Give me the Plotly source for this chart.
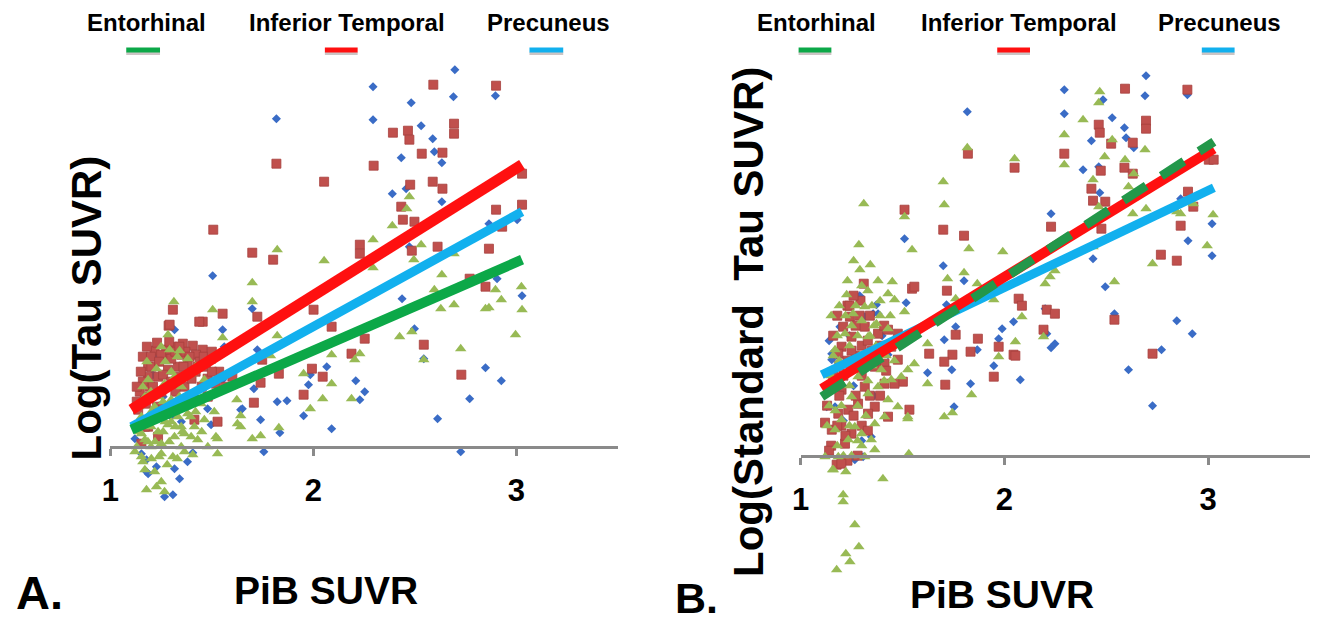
import plotly.graph_objects as go

# ---------------- Data ----------------
# Panel A : PiB SUVR vs Log(Tau SUVR)
a_prec_x = [1.818,1.504,1.553,1.699,1.822,1.870,1.740,1.756,1.835,1.952,2.090,1.976,1.985,2.066,1.642,1.707,1.496,1.479,
            1.406,1.316,1.341,1.186,1.227,1.267,1.308,1.121,1.178,1.316,1.561,1.724,1.650,1.153,1.178,1.186,1.210,1.553,
            1.150,1.260,1.350,1.140,1.230,1.300,1.420,1.380,
            2.294,2.697,2.690,2.897,2.482,2.294,2.531,2.588,2.433,2.596,2.633,2.389,2.457,2.633,2.865,3.004,2.473,2.437,
            2.498,2.544,2.905,3.028,2.848,2.926,2.770,2.209,2.253,2.229,2.612,2.726]
a_prec_y = [0.328,0.171,0.117,0.138,0.045,0.046,0.027,-0.005,0.014,0.031,0.018,0.062,0.072,0.080,0.037,0.058,0.022,0.038,
            -0.006,-0.022,-0.032,-0.027,-0.020,-0.050,-0.048,0.008,-0.013,0.117,0.100,0.097,0.038,-0.007,-0.025,0.083,0.072,0.067,
            0.040,0.050,0.025,0.025,0.090,0.030,0.050,-0.015,
            0.360,0.377,0.350,0.351,0.344,0.327,0.321,0.308,0.289,0.295,0.284,0.253,0.258,0.245,0.223,0.227,0.200,0.148,
            0.118,0.088,0.168,0.151,0.079,0.066,0.048,0.066,0.055,0.047,0.028,-0.005]

a_it_x = [1.818,2.053,1.507,1.699,1.802,1.308,1.287,1.455,1.553,1.724,2.001,1.218,1.186,1.707,1.748,1.830,1.952,2.046,
          1.601,1.740,1.528,1.993,1.267,1.308,1.357,1.406,1.455,1.496,1.536,1.520,1.479,1.430,1.381,1.333,1.284,1.235,
          1.194,1.170,1.251,1.365,1.569,1.292,1.438,1.137,1.186,1.316,1.414,1.235,1.153,1.202,1.275,1.349,1.422,1.186,
          1.160,1.180,1.230,1.250,1.300,1.320,1.370,1.390,1.440,1.470,1.500,1.260,1.300,1.340,1.400,1.450,1.210,1.160,
          1.175,1.230,1.145,1.390,1.130,1.150,1.200,1.240,1.290,1.340,1.360,1.420,1.460,1.500,1.130,1.260,1.320,1.480,
          1.210,1.170,
          2.591,2.900,2.392,2.466,2.473,2.693,2.693,2.534,2.636,2.297,2.477,2.588,2.636,2.433,2.441,2.498,2.900,3.028,
          3.028,2.229,2.229,2.485,2.612,2.865,2.930,2.770,2.848,2.253,2.188,2.544,2.729,2.090]
a_it_y = [0.283,0.265,0.217,0.194,0.187,0.137,0.121,0.125,0.133,0.130,0.137,0.096,0.080,0.044,0.087,0.073,0.052,0.070,
          0.070,0.064,0.025,0.078,0.088,0.100,0.103,0.101,0.097,0.088,0.075,0.063,0.068,0.080,0.083,0.080,0.077,0.070,
          0.060,0.050,0.055,0.060,0.060,0.122,0.125,0.037,0.020,0.037,0.027,0.010,0.003,0.080,0.097,0.092,0.092,0.070,
          0.090,0.100,0.104,0.092,0.088,0.095,0.095,0.090,0.085,0.080,0.075,0.072,0.065,0.070,0.068,0.060,0.060,0.065,
          0.043,0.040,0.055,0.045,0.060,0.075,0.090,0.085,0.105,0.100,0.080,0.075,0.090,0.095,0.045,0.040,0.055,0.050,
          0.030,0.020,
          0.362,0.361,0.314,0.316,0.307,0.323,0.313,0.293,0.294,0.281,0.262,0.265,0.258,0.240,0.227,0.225,0.237,0.242,
          0.273,0.202,0.193,0.196,0.200,0.198,0.220,0.168,0.160,0.108,0.093,0.102,0.072,0.120]

a_ent_x = [1.822,2.053,1.699,1.699,1.504,1.313,1.284,1.553,1.822,1.341,1.512,1.528,1.623,1.626,1.699,1.740,1.830,1.952,
           1.985,2.046,1.789,1.406,1.642,1.292,1.227,1.316,1.398,1.463,1.267,1.186,1.381,1.137,1.186,1.235,1.284,1.333,
           1.381,1.414,1.365,1.316,1.170,1.430,1.463,1.218,1.300,1.398,1.447,1.642,1.520,1.121,1.153,1.202,1.251,1.308,
           1.365,1.170,1.218,1.178,1.227,1.251,1.267,1.528,1.153,1.202,1.251,1.300,1.349,1.398,1.153,1.251,1.349,1.284,
           1.235,1.340,1.140,1.170,1.200,1.220,1.260,1.290,1.320,1.370,1.420,1.450,1.480,1.130,1.160,1.280,1.330,1.200,
           1.260,1.180,1.250,1.330,1.420,1.145,1.185,1.225,1.270,1.310,1.355,1.395,1.240,1.200,1.160,1.270,1.350,1.300,
           2.473,2.460,2.389,2.294,2.531,2.495,2.294,2.633,2.596,2.628,2.693,2.848,2.865,2.897,2.926,3.025,3.028,2.996,
           2.726,2.425,2.485,2.544,2.229,2.204,2.188,2.090,2.090,2.693]
a_ent_y = [0.197,0.186,0.164,0.145,0.137,0.145,0.112,0.109,0.111,0.096,0.035,0.008,0.047,0.023,0.008,0.011,0.019,0.073,
           0.038,0.048,0.091,-0.008,0.031,0.097,0.078,0.070,0.073,0.067,0.063,0.067,0.088,0.020,0.027,0.015,0.022,0.030,
           0.033,0.020,0.013,0.010,0.007,0.007,0.027,0.040,0.047,0.047,0.043,0.020,0.010,-0.005,-0.010,-0.012,-0.007,-0.010,
           -0.005,-0.023,-0.025,-0.043,-0.040,-0.035,-0.045,-0.007,0.030,0.035,0.030,0.025,0.020,0.010,0.013,0.003,0.000,0.040,
           0.050,0.050,0.040,0.050,0.020,0.005,0.015,0.005,0.020,0.040,0.035,0.015,0.000,0.000,-0.015,-0.018,-0.012,0.055,
           0.045,0.085,0.100,0.090,0.080,0.015,0.005,0.030,0.025,0.035,0.015,0.030,-0.010,0.000,0.060,0.085,0.060,0.075,
           0.250,0.238,0.221,0.207,0.202,0.187,0.179,0.172,0.157,0.138,0.142,0.138,0.139,0.157,0.147,0.160,0.137,0.112,
           0.098,0.110,0.115,0.087,0.093,0.087,0.048,0.092,0.063,0.193]

# Panel B : PiB SUVR vs Log(Standard Tau SUVR)
b_prec_x = [1.818,1.510,1.700,1.802,1.518,1.716,1.761,1.705,1.623,1.742,1.834,1.753,1.867,1.948,1.972,1.989,2.045,2.078,
            1.266,1.193,1.372,1.356,1.153,1.347,1.307,1.128,1.380,1.153,1.169,1.315,1.429,
            1.180,1.240,1.290,1.320,1.260,1.210,1.360,1.400,1.140,1.300,
            2.695,2.294,2.690,2.898,2.294,2.484,2.529,2.589,2.427,2.597,2.635,2.386,2.463,2.635,2.468,2.229,3.019,2.901,
            3.019,2.865,2.435,2.495,2.540,2.846,2.922,2.771,2.229,2.248,2.200,2.208,2.609,2.727]
b_prec_y = [0.344,0.217,0.190,0.175,0.153,0.151,0.129,0.116,0.083,0.086,0.072,0.049,0.106,0.090,0.117,0.127,0.134,0.076,
            -0.004,0.129,0.151,0.142,0.096,0.019,-0.001,0.049,0.142,0.102,0.049,0.139,0.101,
            0.100,0.120,0.160,0.090,0.070,0.035,0.060,0.120,0.115,0.015,
            0.380,0.366,0.360,0.361,0.342,0.356,0.338,0.328,0.315,0.318,0.308,0.286,0.289,0.282,0.263,0.242,0.232,0.215,
            0.200,0.257,0.197,0.169,0.142,0.135,0.122,0.106,0.108,0.112,0.147,0.122,0.086,0.050]

b_it_x = [1.821,2.050,1.510,1.700,1.802,1.310,1.547,1.718,1.294,1.761,1.870,1.972,2.045,1.948,1.710,1.834,1.745,1.705,
          1.631,1.534,1.502,1.120,1.177,1.558,1.242,1.209,1.201,1.185,1.250,1.315,1.380,1.429,1.477,1.445,1.477,1.412,
          1.364,1.412,1.461,1.315,1.201,1.234,1.282,1.364,1.429,1.331,1.185,1.153,1.250,1.218,
          1.160,1.190,1.230,1.270,1.300,1.350,1.390,1.270,1.340,1.230,1.260,1.180,1.160,1.300,1.340,1.390,1.260,1.300,
          1.190,1.150,1.280,1.230,1.200,1.410,1.130,1.170,1.210,1.250,1.290,1.330,1.370,1.420,1.180,1.220,1.270,1.140,
          1.200,1.330,1.240,1.290,
          2.592,2.898,2.695,2.695,2.463,2.468,2.524,2.630,2.294,2.473,2.589,2.630,2.427,2.435,2.495,2.476,2.229,3.003,
          3.027,2.901,2.927,2.865,2.768,2.846,2.540,2.727,2.208,2.248,2.192,2.070,2.086,2.054]
b_it_y = [0.302,0.288,0.246,0.226,0.220,0.172,0.167,0.165,0.155,0.121,0.117,0.109,0.101,0.079,0.071,0.104,0.101,0.094,
          0.102,0.046,0.074,0.033,-0.009,0.169,0.139,0.129,0.109,0.102,0.119,0.129,0.122,0.126,0.122,0.109,0.096,0.092,
          0.089,0.072,0.072,0.069,0.066,0.046,0.052,0.049,0.039,0.042,0.042,0.026,0.022,0.012,
          0.080,0.090,0.095,0.100,0.110,0.105,0.110,0.130,0.140,0.150,0.160,0.140,0.120,0.080,0.060,0.060,0.040,0.030,
          0.060,0.010,0.000,-0.005,0.030,0.130,0.050,0.070,0.080,0.105,0.090,0.115,0.095,0.085,0.030,0.020,0.060,0.005,
          -0.008,0.025,0.150,0.140,
          0.367,0.366,0.335,0.327,0.331,0.323,0.312,0.313,0.302,0.285,0.288,0.282,0.267,0.255,0.254,0.227,0.229,0.296,
          0.296,0.264,0.249,0.230,0.201,0.195,0.136,0.102,0.146,0.142,0.126,0.157,0.150,0.100]

b_ent_x = [1.818,2.050,1.700,1.705,1.310,1.510,1.547,1.826,1.992,1.286,1.291,1.342,1.380,1.450,1.226,1.721,1.802,1.761,
           1.867,1.948,1.623,1.623,1.839,1.705,1.745,1.531,1.526,1.404,1.209,1.209,1.266,1.286,1.222,1.242,1.177,1.157,
           1.222,1.120,1.972,2.054,1.429,1.461,1.510,1.315,1.258,1.372,1.218,1.169,1.331,1.429,1.477,1.396,1.315,1.250,
           1.526,1.558,1.494,1.445,1.396,1.282,1.201,1.250,1.331,1.380,1.429,1.477,1.412,1.364,1.266,1.201,1.169,1.234,
           1.299,1.347,1.185,1.315,1.364,1.161,1.526,
           1.150,1.190,1.240,1.280,1.300,1.350,1.390,1.270,1.220,1.180,1.200,1.280,1.320,1.240,1.300,1.350,1.420,1.460,
           1.180,1.250,1.300,1.140,1.340,1.390,1.440,1.260,1.330,
           1.130,1.170,1.210,1.250,1.290,1.330,1.370,1.410,1.160,1.230,1.300,1.190,1.150,1.240,1.280,1.210,1.360,
           2.468,2.463,2.386,2.294,2.294,2.529,2.492,2.690,2.592,2.635,2.435,2.609,2.463,2.695,2.630,2.846,2.865,2.927,
           3.024,2.995,2.727,2.540,2.248,2.224,2.200,2.435,2.086,2.192]
b_ent_y = [0.308,0.297,0.274,0.251,0.252,0.239,0.206,0.207,0.204,0.211,0.186,0.191,0.175,0.174,0.161,0.177,0.183,0.157,
           0.172,0.156,0.112,0.072,0.061,0.039,0.043,0.002,0.037,-0.023,-0.039,-0.046,-0.069,-0.091,-0.098,-0.106,-0.114,-0.014,
           -0.016,-0.001,0.099,0.114,0.162,0.156,0.144,0.149,0.142,0.132,0.122,0.106,0.119,0.127,0.116,0.106,0.099,0.089,
           0.086,0.092,0.079,0.076,0.086,0.079,0.072,0.059,0.062,0.069,0.056,0.049,0.039,0.032,0.029,0.036,0.026,0.016,
           0.022,0.016,-0.001,-0.001,0.006,-0.014,0.039,
           0.080,0.095,0.110,0.120,0.135,0.150,0.155,0.150,0.140,0.120,0.050,0.050,0.040,0.070,0.100,0.090,0.100,0.095,
           0.010,0.000,0.010,0.050,0.120,0.140,0.140,0.195,0.165,
           0.030,0.045,0.090,0.130,0.100,0.075,0.110,0.075,0.100,0.175,0.170,0.150,0.140,0.030,0.015,0.000,0.130,
           0.364,0.353,0.336,0.321,0.291,0.316,0.299,0.306,0.296,0.282,0.276,0.269,0.249,0.247,0.242,0.244,0.242,0.252,
           0.241,0.210,0.192,0.174,0.185,0.179,0.172,0.209,0.139,0.119]

# Regression line end points
fit_x = [1.104, 3.028]
a_fit_it = [0.037, 0.282]
a_fit_prec = [0.020, 0.235]
a_fit_ent = [0.017, 0.187]
b_fit_it = [0.067, 0.307]
b_fit_prec = [0.081, 0.268]
b_fit_ent = [0.059, 0.314]

legend_names = ["Entorhinal", "Inferior Temporal", "Precuneus"]
tick_vals = [1, 2, 3]
tick_text = ["1", "2", "3"]

# ---------------- Styles ----------------
# the page body keeps an 8px margin, so the figure is drawn from (8, 8) of the window
OFF = 8
W, H = 1320 - OFF, 626 - OFF
C_DIAM = "#3A6CC6"
C_SQ = "#C0504D"
C_TRI = "#98BA55"
C_RED = "#FF1010"
C_BLUE = "#12B0EE"
C_GREEN = "#0CA848"
C_GREEN_D = "#23974A"
ARIAL = "Liberation Sans, Arial, sans-serif"

fig = go.Figure()

def add_panel(xa, ya, px, py, ix, iy, ex, ey):
    fig.add_trace(go.Scatter(x=px, y=py, mode="markers", xaxis=xa, yaxis=ya, cliponaxis=False,
                             marker=dict(symbol="diamond", size=7, color=C_DIAM, line=dict(width=0)),
                             showlegend=False, hoverinfo="skip"))
    fig.add_trace(go.Scatter(x=ix, y=iy, mode="markers", xaxis=xa, yaxis=ya, cliponaxis=False,
                             marker=dict(symbol="square", size=9, color=C_SQ, line=dict(width=0.8, color="#A7403D")),
                             showlegend=False, hoverinfo="skip"))
    fig.add_trace(go.Scatter(x=ex, y=ey, mode="markers", xaxis=xa, yaxis=ya, cliponaxis=False,
                             marker=dict(symbol="triangle-up", size=10, color=C_TRI, line=dict(width=0)),
                             showlegend=False, hoverinfo="skip"))

add_panel("x", "y", a_prec_x, a_prec_y, a_it_x, a_it_y, a_ent_x, a_ent_y)
add_panel("x2", "y2", b_prec_x, b_prec_y, b_it_x, b_it_y, b_ent_x, b_ent_y)

# Panel A fit lines
fig.add_trace(go.Scatter(x=fit_x, y=a_fit_it, mode="lines", xaxis="x", yaxis="y", cliponaxis=False,
                         line=dict(color=C_RED, width=11), showlegend=False, hoverinfo="skip"))
fig.add_trace(go.Scatter(x=fit_x, y=a_fit_prec, mode="lines", xaxis="x", yaxis="y", cliponaxis=False,
                         line=dict(color=C_BLUE, width=9), showlegend=False, hoverinfo="skip"))
fig.add_trace(go.Scatter(x=fit_x, y=a_fit_ent, mode="lines", xaxis="x", yaxis="y", cliponaxis=False,
                         line=dict(color=C_GREEN, width=10), showlegend=False, hoverinfo="skip"))
# Panel B fit lines
fig.add_trace(go.Scatter(x=fit_x, y=b_fit_prec, mode="lines", xaxis="x2", yaxis="y2", cliponaxis=False,
                         line=dict(color=C_BLUE, width=9), showlegend=False, hoverinfo="skip"))
fig.add_trace(go.Scatter(x=fit_x, y=b_fit_it, mode="lines", xaxis="x2", yaxis="y2", cliponaxis=False,
                         line=dict(color=C_RED, width=10), showlegend=False, hoverinfo="skip"))
fig.add_trace(go.Scatter(x=fit_x, y=b_fit_ent, mode="lines", xaxis="x2", yaxis="y2", cliponaxis=False,
                         line=dict(color=C_GREEN_D, width=9, dash="27px,18px"), showlegend=False, hoverinfo="skip"))

def fx(p):
    return (p - OFF) / W

def fy(p):
    return 1 - (p - OFF) / H

xcommon = dict(range=[1, 3.5], anchor="free", showline=True, linecolor="#8a8a8a", linewidth=3,
               ticks="outside", ticklen=7, tickwidth=3, tickcolor="#8a8a8a",
               tickvals=tick_vals, ticktext=tick_text, showgrid=False, zeroline=False,
               tickfont=dict(family=ARIAL, size=31, color="black", weight="bold"),
               ticklabelstandoff=8, fixedrange=True)

fig.update_layout(
    width=W, height=H, margin=dict(l=0, r=0, t=0, b=0),
    paper_bgcolor="white", plot_bgcolor="rgba(0,0,0,0)", showlegend=False,
    xaxis=dict(domain=[fx(102), fx(613)], position=fy(446.7), **xcommon),
    yaxis=dict(domain=[fy(520), fy(60)], range=[(446.7 - 520) / 1000, (446.7 - 60) / 1000],
               visible=False, anchor="x", fixedrange=True),
    xaxis2=dict(domain=[fx(797), fx(1310)], position=fy(455.7), **xcommon),
    yaxis2=dict(domain=[fy(585), fy(50)], range=[(455.7 - 585) / 1000, (455.7 - 50) / 1000],
                visible=False, anchor="x2", fixedrange=True),
)

ann = []
def text(x, y, s, size, angle=0):
    ann.append(dict(x=fx(x), y=fy(y), xref="paper", yref="paper", text=s, showarrow=False,
                    xanchor="center", yanchor="middle", textangle=angle,
                    font=dict(family=ARIAL, size=size, color="black", weight="bold")))

# legends
leg_cols = [C_GREEN, C_RED, C_BLUE]
legA_text_x = [138, 340, 543]
legA_line = [(118, 152), (318, 351), (524, 558)]
legB_text_x = [813, 1017, 1219]
legB_line = [(795, 828), (995, 1028), (1201, 1234)]
shapes = []
for names_x, lines in ((legA_text_x, legA_line), (legB_text_x, legB_line)):
    for name, tx, (x0, x1), col in zip(legend_names, names_x, lines, leg_cols):
        text(tx, 23, name, 24)
        shapes.append(dict(type="line", xref="paper", yref="paper", x0=fx(x0), x1=fx(x1),
                           y0=fy(53.5), y1=fy(53.5), line=dict(color="rgba(110,90,90,0.35)", width=3)))
        shapes.append(dict(type="line", xref="paper", yref="paper", x0=fx(x0), x1=fx(x1),
                           y0=fy(50), y1=fy(50), line=dict(color=col, width=5)))

text(77, 308, "Log(Tau SUVR)", 42, angle=-90)
text(744, 322, "Log(Standard\u00a0 Tau SUVR)", 42, angle=-90)
text(319, 590, "PiB SUVR", 39)
text(1000, 594, "PiB SUVR", 39)
text(31, 592, "A.", 47)
text(692, 598, "B.", 43)

fig.update_layout(annotations=ann, shapes=shapes)
fig.write_html("out.html")
